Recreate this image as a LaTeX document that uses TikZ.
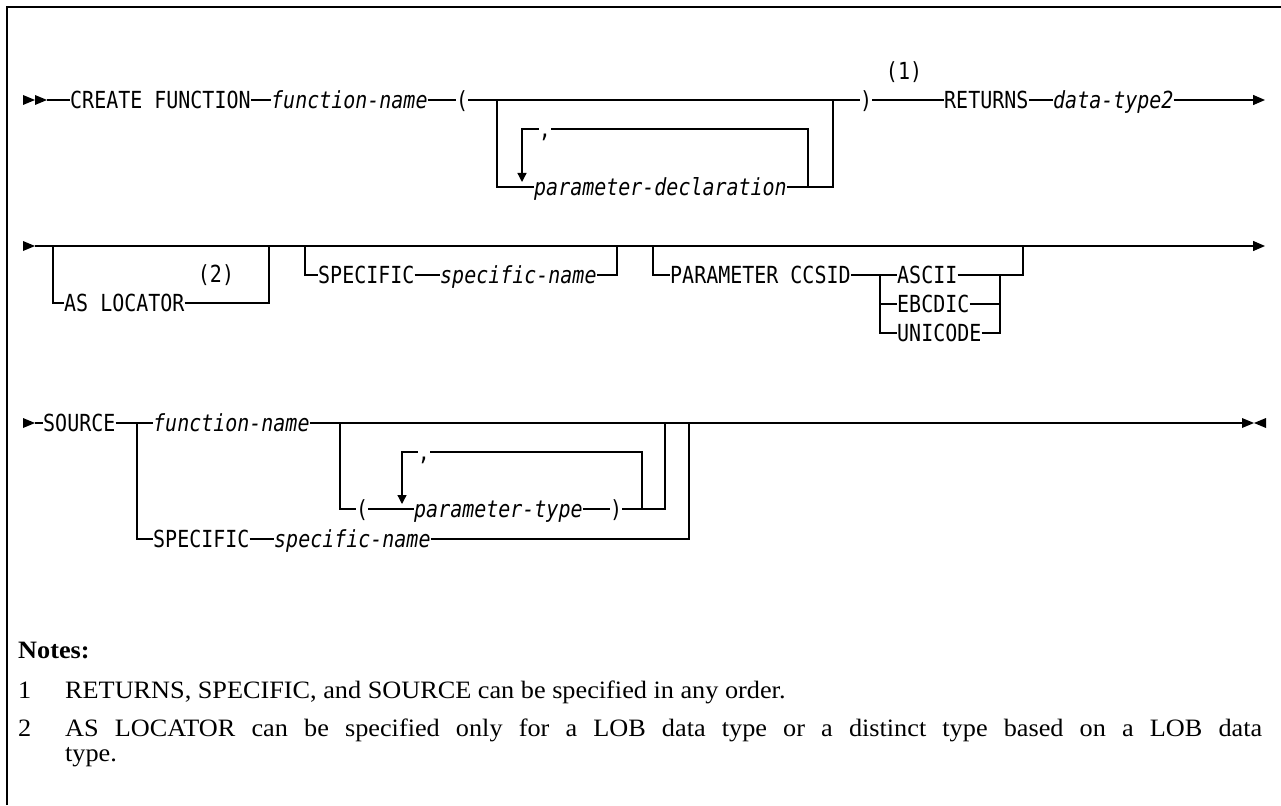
\documentclass[tikz,border=0pt]{standalone}
\usepackage{fontspec}
\usetikzlibrary{arrows.meta}
\newfontfamily\dfont[FakeStretch=0.85]{DejaVu Sans Mono}
\newfontfamily\nfont[FakeStretch=1.05]{Liberation Serif}
\begin{document}
\begin{tikzpicture}[x=1pt,y=-1pt,
  kw/.style={font=\dfont\fontsize{23.5}{28}\selectfont, inner sep=0pt, text height=17pt, text depth=0pt, anchor=west},
  var/.style={kw, font=\dfont\itshape\fontsize{23.5}{28}\selectfont},
  lbl/.style={kw, anchor=center},
  nt/.style={font=\nfont\fontsize{25}{30}\selectfont, inner sep=0pt, text height=16.5pt, text depth=0pt, anchor=west},
  ntb/.style={nt, font=\nfont\bfseries\fontsize{25}{30}\selectfont},
  ln/.style={line width=1.3pt},
  tip/.style={-{Triangle[length=12pt,width=10pt]}},
  dtip/.style={-{Triangle[length=9pt,width=9pt]}}]
\useasboundingbox (0,0) rectangle (1281,805);
% frame
\draw[line width=1.5pt] (7,805) -- (7,7) -- (1281,7);

% ---------------- row 1
\fill (23,95) -- (35,100) -- (23,105) -- cycle;
\fill (35,95) -- (47,100) -- (35,105) -- cycle;
\coordinate (r1s) at (47,100);
\node[kw] (cf) at (70,100) {CREATE FUNCTION};
\node[var] (fn1) at (271,100) {function-name};
\node[kw] (lp1) at (456,100) {(};
\node[kw] (rp1) at (860,100) {)};
\node[lbl] (n1) at (904,71) {(1)};
\node[kw] (ret) at (944,100) {RETURNS};
\node[var] (dt2) at (1053,100) {data-type2};
\coordinate (r1e) at (1265,100);
\draw[ln] (r1s) -- (cf.west);
\draw[ln] (cf.east) -- (fn1.west);
\draw[ln] (fn1.east) -- (lp1.west);
\draw[ln] (lp1.east) -- (rp1.west);
\draw[ln] (rp1.east) -- (ret.west);
\draw[ln] (ret.east) -- (dt2.west);
\draw[ln,tip] (dt2.east) -- (r1e);
% parameter box
\node[var] (pd) at (534,187) {parameter-declaration};
\coordinate (b1l) at (497,100);
\coordinate (b1r) at (833,100);
\draw[ln] (b1l) |- (pd.west);
\draw[ln] (pd.east) -| (b1r);
\node[lbl] (cm1) at (545,129) {,};
\coordinate (c1a) at (808,187);
\coordinate (c1b) at (522,129);
\coordinate (c1c) at (522,182);
\draw[ln] (c1a) |- (cm1.east);
\draw[ln,dtip] (cm1.west) -- (c1b) -- (c1c);

% ---------------- row 2
\fill (23,241) -- (35,246) -- (23,251) -- cycle;
\coordinate (r2s) at (35,246);
\coordinate (r2e) at (1265,246);
\draw[ln,tip] (r2s) -- (r2e);
\node[kw] (asl) at (64,303) {AS LOCATOR};
\node[lbl] (n2) at (216,274) {(2)};
\coordinate (a1) at (53,246);
\coordinate (a2) at (269,246);
\draw[ln] (a1) |- (asl.west);
\draw[ln] (asl.east) -| (a2);
\node[kw] (sp) at (318,275) {SPECIFIC};
\node[var] (spn) at (440,275) {specific-name};
\coordinate (s1) at (305,246);
\coordinate (s2) at (617,246);
\draw[ln] (s1) |- (sp.west);
\draw[ln] (sp.east) -- (spn.west);
\draw[ln] (spn.east) -| (s2);
\node[kw] (pc) at (670,275) {PARAMETER CCSID};
\coordinate (p1) at (653,246);
\draw[ln] (p1) |- (pc.west);
\node[kw] (asc) at (897,275) {ASCII};
\node[kw] (ebc) at (897,304) {EBCDIC};
\node[kw] (uni) at (897,333) {UNICODE};
\coordinate (f1) at (880,275);
\coordinate (j1) at (1000,275);
\coordinate (p2) at (1023,246);
\draw[ln] (pc.east) -- (asc.west);
\draw[ln] (f1) |- (ebc.west);
\draw[ln] (f1) |- (uni.west);
\draw[ln] (asc.east) -| (p2);
\draw[ln] (ebc.east) -| (j1);
\draw[ln] (uni.east) -| (j1);

% ---------------- row 3
\fill (23,418) -- (35,423) -- (23,428) -- cycle;
\coordinate (r3s) at (35,423);
\node[kw] (src) at (43,423) {SOURCE};
\coordinate (f3) at (137,423);
\node[var] (fn3) at (153,423) {function-name};
\node[kw] (sp3) at (153,539) {SPECIFIC};
\node[var] (spn3) at (274,539) {specific-name};
\coordinate (g3) at (689,423);
\coordinate (e3) at (1242,423);
\draw[ln] (r3s) -- (src.west);
\draw[ln] (src.east) -- (fn3.west);
\draw[ln] (f3) |- (sp3.west);
\draw[ln] (sp3.east) -- (spn3.west);
\draw[ln] (spn3.east) -| (g3);
\draw[ln] (fn3.east) -- (e3);
\fill (1242,418) -- (1254,423) -- (1242,428) -- cycle;
\fill (1266,418) -- (1254,423) -- (1266,428) -- cycle;
% inner box
\coordinate (h1) at (340,423);
\coordinate (h2) at (665,423);
\node[kw] (lp3) at (356,509) {(};
\node[var] (pt) at (414,509) {parameter-type};
\node[kw] (rp3) at (610,509) {)};
\draw[ln] (h1) |- (lp3.west);
\draw[ln] (lp3.east) -- (pt.west);
\draw[ln] (pt.east) -- (rp3.west);
\draw[ln] (rp3.east) -| (h2);
\node[lbl] (cm3) at (424,452) {,};
\coordinate (l3a) at (642,509);
\coordinate (l3b) at (402,452);
\coordinate (l3c) at (402,504);
\draw[ln] (l3a) |- (cm3.east);
\draw[ln,dtip] (cm3.west) -- (l3b) -- (l3c);

% ---------------- notes
\node[ntb] (nh) at (18,650) {Notes:};
\node[nt] (k1) at (18,690) {1};
\node[nt] (t1) at (65,690) {RETURNS, SPECIFIC, and SOURCE can be specified in any order.};
\node[nt] (k2) at (18,728) {2};
\node[nt] (t2) at (65,728) {\makebox[1197pt][s]{AS LOCATOR can be specified only for a LOB data type or a distinct type based on a LOB data}};
\node[nt] (t2b) at (65,753) {type.};
\end{tikzpicture}
\end{document}
